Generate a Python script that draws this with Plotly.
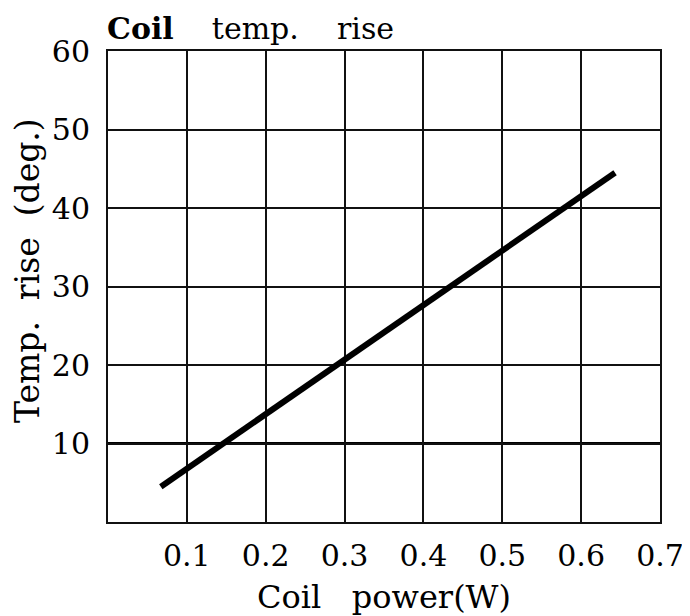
import plotly.graph_objects as go

# Data
power_w = [0.067, 0.643]
temp_rise = [4.5, 44.5]
x_ticks = [0.1, 0.2, 0.3, 0.4, 0.5, 0.6, 0.7]
x_tick_labels = ["0.1", "0.2", "0.3", "0.4", "0.5", "0.6", "0.7"]
y_ticks = [10, 20, 30, 40, 50, 60]
y_tick_labels = ["10", "20", "30", "40", "50", "60"]
emphasis_y = [10]

FONT = "DejaVu Serif"
W, H = 682, 608  # page body has an 8px default margin
L, R, T, B = 100, 30, 43, 94
PW, PH = W - L - R, H - T - B

fig = go.Figure()
fig.add_trace(go.Scatter(x=power_w, y=temp_rise, mode="lines",
                         line=dict(color="black", width=6), showlegend=False))

for yv in emphasis_y:
    fig.add_shape(type="line", xref="paper", yref="y", x0=0, x1=1, y0=yv, y1=yv,
                  line=dict(color="black", width=3), layer="below")

# y-axis title as rotated annotation (precise placement)
fig.add_annotation(text="Temp.  rise  (deg.)", textangle=-90, showarrow=False,
                   xref="paper", yref="paper",
                   x=(19 - L) / PW, y=(T + PH - 263) / PH,
                   xanchor="center", yanchor="middle",
                   font=dict(family=FONT, size=33, color="black"))

fig.update_layout(
    width=W, height=H,
    margin=dict(l=L, r=R, t=T, b=B),
    paper_bgcolor="white", plot_bgcolor="white",
    font=dict(family=FONT, size=30, color="black"),
    title=dict(text="<b>Coil</b>    temp.    rise", x=99/W, xanchor="left", y=1-20/H, yanchor="middle",
               font=dict(family=FONT, size=30, color="black")),
)
fig.update_xaxes(range=[0, 0.7], tickvals=x_ticks, ticktext=x_tick_labels,
                 showgrid=True, gridcolor="#111", gridwidth=2,
                 showline=True, linecolor="#111", linewidth=2, mirror=True,
                 ticks="", zeroline=False, automargin=False, ticklabelstandoff=6,
                 title=dict(text="Coil   power(W)", standoff=14,
                            font=dict(family=FONT, size=32)),
                 tickfont=dict(family=FONT, size=30))
fig.update_yaxes(range=[0, 60], tickvals=y_ticks, ticktext=y_tick_labels,
                 showgrid=True, gridcolor="#111", gridwidth=2,
                 showline=True, linecolor="#111", linewidth=2, mirror=True,
                 ticks="", zeroline=False, automargin=False, ticklabelstandoff=10,
                 tickfont=dict(family=FONT, size=30))

fig.write_html("out.html")
